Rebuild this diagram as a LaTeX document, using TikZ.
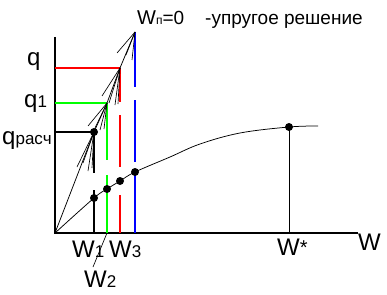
\documentclass[tikz,border=0pt]{standalone}
\usepackage{fontspec}
\setmainfont{Liberation Sans}
\newcommand\fsBig{\fontsize{24}{24}\selectfont}
\newcommand\fsMid{\fontsize{17}{17}\selectfont}
\newcommand\fsHead{\fontsize{19}{19}\selectfont}
\newcommand\fsTiny{\fontsize{12}{12}\selectfont}
\begin{document}
\begin{tikzpicture}[x=1pt,y=-1pt,
  axis/.style={line width=1.2pt},
  vline/.style={line width=1.2pt},
  fan/.style={line width=0.65pt},
  crv/.style={line width=0.75pt},
  dot/.style={circle,fill=black,inner sep=0pt,minimum size=8pt},
  lab/.style={inner sep=0pt,anchor=base west}]
\useasboundingbox (0,0) rectangle (387,294);
% axes
\coordinate (O) at (55,233);
\coordinate (ytop) at (55,37);
\coordinate (xend) at (358,233);
\draw[axis] (ytop) -- (O) -- (xend);
% key points
\coordinate (b) at (135,32);
\coordinate (r) at (120,68);
\coordinate (g) at (107,103);
\coordinate (qrc) at (94,132);
\coordinate (c1) at (94,198);
\coordinate (c2) at (107,189);
\coordinate (c3) at (120,181);
\coordinate (c4) at (135,172);
\coordinate (cs) at (289,127);
\coordinate (cend) at (318,126);
% curve
\draw[crv] plot[smooth,tension=0.6] coordinates {(O) (c1) (c2) (c3) (c4) (170,157) (200,144) (240,133) (cs) (cend)};
% W* vertical
\draw[fan,line width=0.8pt] (cs) -- (cs |- O);
% horizontals
\draw[vline,red] (r -| O) -- (r);
\draw[vline,green] (g -| O) -- (g);
\draw[vline] (qrc -| O) -- (qrc);
% verticals (broken)
\draw[vline,blue] (b) -- ++(0,55) ++(0,13) -- ++(0,62) ++(0,8) -- (b |- O);
\draw[vline,red] (r) -- ++(0,34) ++(0,13) -- ++(0,52) ++(0,28) -- (r |- O);
\draw[vline,green] (g) -- ++(0,57) ++(0,15) -- (g |- O);
\draw[vline] (qrc) -- ++(0,41) ++(0,17) -- (qrc |- O);
% main polyline
\draw[fan,line width=0.75pt] (O) -- (qrc) -- (g) -- (r) -- (b);
% fans
\draw[fan] (b) -- ++(-18,21);
\draw[fan] (b) -- ++(-9,23);
\draw[fan] (b) -- ++(-3,28);
\draw[fan] (r) -- ++(-18,28);
\draw[fan] (r) -- ++(-11,35);
\draw[fan] (r) -- ++(-5,37);
\draw[fan] (r) -- ++(-2,36);
\draw[fan] (g) -- ++(-19,23);
\draw[fan] (g) -- ++(-12,25);
\draw[fan] (g) -- ++(-7,27);
\draw[fan] (g) -- ++(-3,26);
\draw[fan] (qrc) -- ++(-17,35);
\draw[fan] (qrc) -- ++(-11,31);
\draw[fan] (qrc) -- ++(-6,39);
\draw[fan] (qrc) -- ++(-2,36);
% dots
\node[dot] (qr) at (qrc) {};
\node[dot] (d1) at (c1) {};
\node[dot] (d2) at (c2) {};
\node[dot] (d3) at (c3) {};
\node[dot] (d4) at (c4) {};
\node[dot] (ds) at (cs) {};
% W2 leader
\coordinate (w2lead) at (93,267);
\draw[fan] (g |- O) -- (w2lead);
% labels
\node[lab] (lq) at (27,66) {\fsBig q};
\node[lab] (lq1) at (24,107) {\fsBig q\fsMid 1};
\node[lab] (lqr) at (2,144) {\fsBig q\fsMid расч};
\node[lab] (head1) at (137,25) {\fontsize{20}{20}\selectfont W\fsTiny п\fsHead =0};
\node[lab] (head2) at (205,25) {\fsHead -упругое решение};
\node[lab] (lw1) at (72,257) {\fsBig W\fsMid 1};
\node[lab] (lw3) at (109,257) {\fsBig W\fsMid 3};
\node[lab] (lw2) at (84,287) {\fsBig W\fsMid 2};
\node[lab] (lws) at (277,255) {\fsBig W\fontsize{20}{20}\selectfont\raisebox{1pt}{*}};
\node[lab] (lw) at (358,250) {\fsBig W};
\end{tikzpicture}
\end{document}
